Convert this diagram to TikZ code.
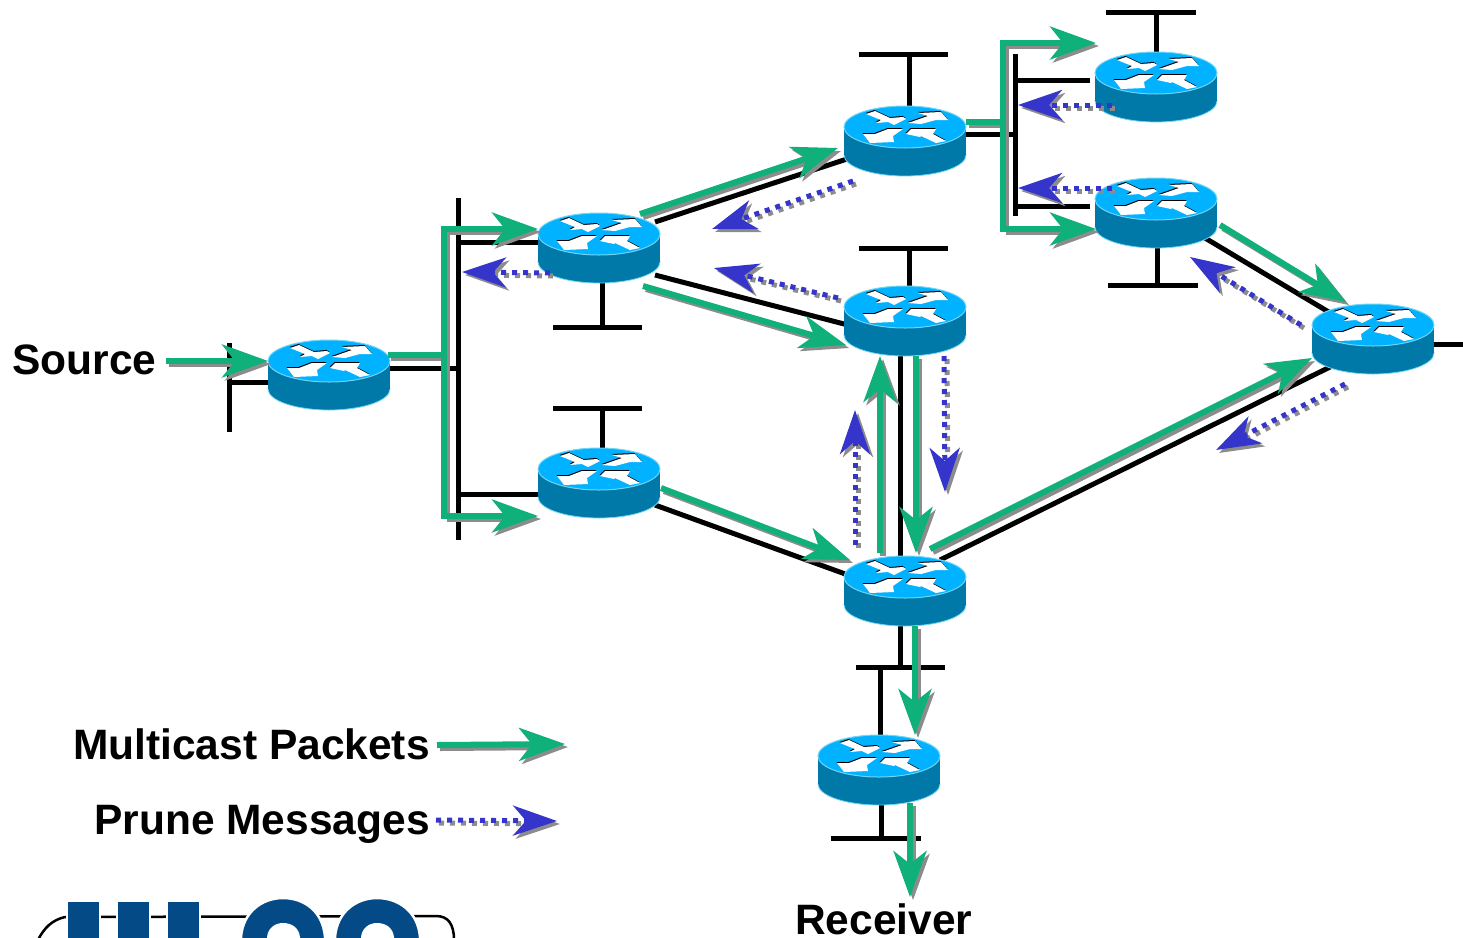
\documentclass[tikz,border=0pt]{standalone}
\usepackage{fontspec}
\setmainfont{Liberation Sans}
\usetikzlibrary{arrows.meta,calc}
\definecolor{flowgreen}{HTML}{0FB07A}
\definecolor{prunebl}{HTML}{3535CC}
\definecolor{shade}{HTML}{8C8C8C}
\definecolor{rtop}{HTML}{00B2FF}
\definecolor{rside}{HTML}{0078A8}
\definecolor{rrim}{HTML}{70D4F4}
\definecolor{logob}{HTML}{044A86}
\tikzset{
  rbox/.style={rectangle,minimum width=122pt,minimum height=70pt,inner sep=0pt,outer sep=0pt},
  net/.style={black,line width=5pt},
  lab/.style={font=\fontsize{42.5}{50}\selectfont\bfseries,inner sep=0pt},
  gtip/.style={-{Stealth[length=46pt,width=33pt,inset=13pt]}},
  ptip/.style={-{Stealth[length=44pt,width=30pt,inset=13pt]}},
  gmain/.style={draw=flowgreen,fill=none,line width=6pt,gtip},
  gshad/.style={draw=shade,line width=6pt,gtip},
  gplain/.style={draw=flowgreen,line width=6pt},
  gplains/.style={draw=shade,line width=6pt},
  pmain/.style={draw=prunebl,line width=5pt,dash pattern=on 5pt off 6pt,ptip},
  pshad/.style={draw=shade,line width=5pt,dash pattern=on 5pt off 6pt,ptip},
  logolet/.style={draw=white,line width=2.5pt,fill=logob},
}
\newcommand{\gflow}[2]{%
  \draw[gshad] ([shift={(3,3)}]#1) -- ([shift={(3,3)}]#2);
  \draw[gmain] (#1) -- (#2);}
\newcommand{\pflow}[2]{%
  \draw[pshad] ([shift={(3,3)}]#1) -- ([shift={(3,3)}]#2);
  \draw[pmain] (#1) -- (#2);}
\newcommand{\arrowpoly}[1]{%
  \fill[black,shift={(-0.5,-1)}] #1 -- cycle;
  \fill[white] #1 -- cycle;}
\newcommand{\routerart}[1]{%
  \begin{scope}[shift={(#1.center)}]
    \draw[rrim,line width=.8pt,fill=rside] (0,14) ellipse [x radius=61,y radius=21];
    \fill[rside] (-60.6,-14) rectangle (60.6,14);
    \draw[rrim,line width=1pt,fill=rtop] (0,-14) ellipse [x radius=61,y radius=21];
    \arrowpoly{(-39,-27) -- (-30,-30) -- (-15,-23) -- (-2,-24) -- (1,-22) -- (-11,-16) -- (-17,-19) -- (-29,-18) -- (-24,-21)}
    \arrowpoly{(13,-28) -- (36,-29) -- (43,-21) -- (31,-21) -- (16,-17) -- (3,-18) -- (23,-25)}
    \arrowpoly{(-42,-7) -- (-30,-7) -- (-17,-12) -- (-2,-12) -- (-12,-5) -- (-11,1) -- (-35,2)}
    \arrowpoly{(1,-7) -- (6,-12) -- (31,-12) -- (28,-7) -- (41,0) -- (31,2) -- (16,-5) -- (15,-4)}
  \end{scope}}
\begin{document}
\begin{tikzpicture}[x=1pt,y=-1pt]
\useasboundingbox (0,0) rectangle (1463,937);
% router positions
\node[rbox] (r0) at (329,375) {};
\node[rbox] (r1) at (599,248) {};
\node[rbox] (r2) at (599,483) {};
\node[rbox] (r3) at (905,141) {};
\node[rbox] (r4) at (905,321) {};
\node[rbox] (r5) at (905,591) {};
\node[rbox] (r6) at (1156,87) {};
\node[rbox] (r7) at (1156,213) {};
\node[rbox] (r8) at (1373,339) {};
\node[rbox] (r9) at (879,770) {};
% labels
\node[lab,anchor=base west] (source) at (12,374) {Source};
\node[lab,anchor=base east] (legm) at (430,759) {Multicast Packets};
\node[lab,anchor=base east] (legp) at (430,834) {Prune Messages};
\node[lab,anchor=base west] (receiver) at (795,934) {Receiver};
% logo
\draw[black,line width=2.5pt] (38,940) .. controls (44,928) and (52,920) .. (65,917) -- (436,916) .. controls (448,916) and (454,924) .. (454,940);
\draw[logolet] (67,901) rectangle (100,950);
\draw[logolet] (117,901) rectangle (150,950);
\draw[logolet] (167,901) rectangle (200,950);
\draw[logolet] (241,950) -- (241,937) .. controls (243,912) and (262,898) .. (283,898) .. controls (305,898) and (323,912) .. (325,937) -- (325,950) -- cycle;
\fill[white] (267,950) -- (267,937) .. controls (268,928) and (275,923) .. (283,923) .. controls (292,923) and (299,928) .. (300,937) -- (300,950) -- cycle;
\draw[logolet] (335,950) -- (335,937) .. controls (337,912) and (356,898) .. (377,898) .. controls (399,898) and (418,912) .. (420,937) -- (420,950) -- cycle;
\fill[white] (361,950) -- (361,937) .. controls (362,928) and (369,923) .. (377,923) .. controls (386,923) and (393,928) .. (394,937) -- (394,950) -- cycle;
% network coordinates
\coordinate (a1) at (229,343); \coordinate (a2) at (229,432); \coordinate (a3) at (229,382); \coordinate (a4) at (268,382);
\coordinate (m1) at (458,198); \coordinate (m2) at (458,540);
\coordinate (m3) at (390,368); \coordinate (m4) at (458,368);
\coordinate (m5) at (458,242); \coordinate (m6) at (538,242);
\coordinate (m7) at (458,494); \coordinate (m8) at (538,494);
\coordinate (t1a) at (553,327); \coordinate (t1b) at (642,327); \coordinate (t1c) at (602,327); \coordinate (t1d) at (602,280);
\coordinate (t2a) at (553,408); \coordinate (t2b) at (642,408); \coordinate (t2c) at (602,408); \coordinate (t2d) at (602,450);
\coordinate (t3a) at (859,54); \coordinate (t3b) at (948,54); \coordinate (t3c) at (909,54); \coordinate (t3d) at (909,108);
\coordinate (t4a) at (859,248); \coordinate (t4b) at (948,248); \coordinate (t4c) at (909,248); \coordinate (t4d) at (909,288);
\coordinate (l1a) at (655,222); \coordinate (l1b) at (850,158);
\coordinate (l2a) at (655,275); \coordinate (l2b) at (848,325);
\coordinate (l3a) at (655,505); \coordinate (l3b) at (848,575);
\coordinate (l4a) at (900,354); \coordinate (l4b) at (900,558);
\coordinate (l5a) at (940,560); \coordinate (l5b) at (1332,366);
\coordinate (l6a) at (1205,238); \coordinate (l6b) at (1332,314);
\coordinate (l7a) at (1434,344); \coordinate (l7b) at (1463,344);
\coordinate (d1) at (900,624); \coordinate (d2) at (900,667);
\coordinate (d3) at (856,667); \coordinate (d4) at (945,667);
\coordinate (d5) at (880,667); \coordinate (d6) at (880,737);
\coordinate (e1) at (881,803); \coordinate (e2) at (881,838);
\coordinate (e3) at (831,838); \coordinate (e4) at (921,838);
\coordinate (n1) at (966,134); \coordinate (n2) at (1015,134);
\coordinate (n3) at (1015,54); \coordinate (n4) at (1015,216);
\coordinate (n5) at (1015,80); \coordinate (n6) at (1090,80);
\coordinate (n7) at (1015,206); \coordinate (n8) at (1090,206);
\coordinate (t6a) at (1106,12); \coordinate (t6b) at (1196,12); \coordinate (t6c) at (1156,12); \coordinate (t6d) at (1156,54);
\coordinate (t7a) at (1108,285); \coordinate (t7b) at (1198,285); \coordinate (t7c) at (1157,285); \coordinate (t7d) at (1157,246);
% black network
\foreach \p/\q in {a1/a2,a3/a4,m1/m2,m3/m4,m5/m6,m7/m8,t1a/t1b,t1c/t1d,t2a/t2b,t2c/t2d,t3a/t3b,t3c/t3d,t4a/t4b,t4c/t4d,l1a/l1b,l2a/l2b,l3a/l3b,l4a/l4b,l5a/l5b,l6a/l6b,l7a/l7b,d1/d2,d3/d4,d5/d6,e1/e2,e3/e4,n1/n2,n3/n4,n5/n6,n7/n8,t6a/t6b,t6c/t6d,t7a/t7b,t7c/t7d}
  \draw[net] (\p) -- (\q);
% routers
\foreach \r in {r0,r1,r2,r3,r4,r5,r6,r7,r8,r9} \routerart{\r}
% green branch trunks
\coordinate (g1) at (388,355); \coordinate (g2) at (444,355);
\coordinate (g3) at (444,229); \coordinate (g4) at (444,516);
\coordinate (g5) at (538,229); \coordinate (g6) at (538,516);
\coordinate (h1) at (966,122); \coordinate (h2) at (1003,122);
\coordinate (h3) at (1003,43); \coordinate (h4) at (1003,229);
\coordinate (h5) at (1096,43); \coordinate (h6) at (1096,229);
\draw[gplains] ([shift={(3,3)}]g1) -- ([shift={(3,3)}]g2);
\draw[gplains] ([shift={(3,3)}]g3) -- ([shift={(3,3)}]g4);
\draw[gplains] ([shift={(3,3)}]h1) -- ([shift={(3,3)}]h2);
\draw[gplains] ([shift={(3,3)}]h3) -- ([shift={(3,3)}]h4);
\draw[gplain] (g1) -- (g2);
\draw[gplain,line cap=rect] (g3) -- (g4);
\draw[gplain] (h1) -- (h2);
\draw[gplain,line cap=rect] (h3) -- (h4);
\gflow{g3}{g5}
\gflow{g4}{g6}
\gflow{h3}{h5}
\gflow{h4}{h6}
% green arrows
\coordinate (f1a) at (166,361); \coordinate (f1b) at (268,361);
\coordinate (f2a) at (640,214); \coordinate (f2b) at (838,148);
\coordinate (f3a) at (643,286); \coordinate (f3b) at (846,345);
\coordinate (f4a) at (661,488); \coordinate (f4b) at (850,560);
\coordinate (f5a) at (880,553); \coordinate (f5b) at (880,356);
\coordinate (f6a) at (916,356); \coordinate (f6b) at (916,553);
\coordinate (f7a) at (930,549); \coordinate (f7b) at (1312,358);
\coordinate (f8a) at (1220,225); \coordinate (f8b) at (1346,302);
\coordinate (f9a) at (915,626); \coordinate (f9b) at (915,735);
\coordinate (f10a) at (910,803); \coordinate (f10b) at (910,897);
\coordinate (f11a) at (437,745); \coordinate (f11b) at (565,744);
\foreach \n in {1,...,11} {\gflow{f\n a}{f\n b}}
% prune arrows
\coordinate (q1a) at (550,273); \coordinate (q1b) at (462,272);
\coordinate (q2a) at (853,181); \coordinate (q2b) at (712,229);
\coordinate (q3a) at (838,298); \coordinate (q3b) at (714,268);
\coordinate (q4a) at (944,356); \coordinate (q4b) at (945,492);
\coordinate (q5a) at (855,545); \coordinate (q5b) at (855,410);
\coordinate (q6a) at (1345,384); \coordinate (q6b) at (1216,450);
\coordinate (q7a) at (1301,325); \coordinate (q7b) at (1190,257);
\coordinate (q8a) at (1112,105); \coordinate (q8b) at (1018,105);
\coordinate (q9a) at (1112,188); \coordinate (q9b) at (1018,188);
\coordinate (q10a) at (436,820); \coordinate (q10b) at (557,821);
\foreach \n in {1,...,10} {\pflow{q\n a}{q\n b}}
\end{tikzpicture}
\end{document}
